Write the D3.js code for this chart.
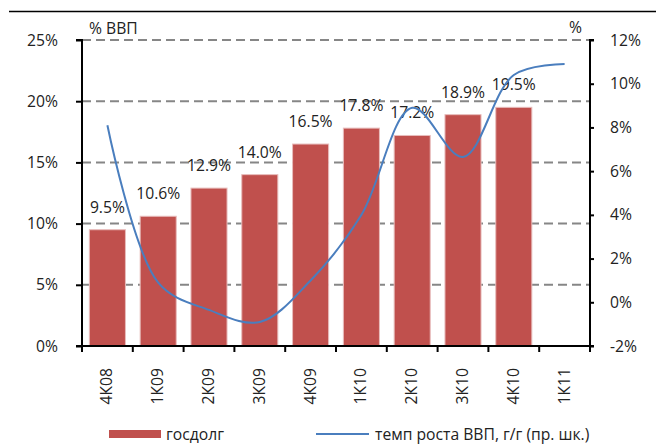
<!DOCTYPE html>
<html>
<head>
<meta charset="utf-8">
<script src="https://cdn.jsdelivr.net/npm/d3@7"></script>
<style>
  html, body { margin: 0; padding: 0; background: #fff; }
  svg { display: block; font-family: "Open Sans", "Noto Sans", sans-serif; }
</style>
</head>
<body>
<svg id="chart" width="656" height="445"></svg>
<script>
const categories = ["4К08", "1К09", "2К09", "3К09", "4К09", "1К10", "2К10", "3К10", "4К10", "1К11"];
const debtValues = [9.5, 10.6, 12.9, 14.0, 16.5, 17.8, 17.2, 18.9, 19.5, null];
const gdpGrowth = [8.1, 0.9, -0.35, -0.9, 1.0, 4.0, 8.9, 6.65, 10.4, 10.9];
const leftTicks = [0, 5, 10, 15, 20, 25];
const rightTicks = [-2, 0, 2, 4, 6, 8, 10, 12];
const leftTitle = "% ВВП";
const rightTitle = "%";
const legendBar = "госдолг";
const legendLine = "темп роста ВВП, г/г (пр. шк.)";

const svg = d3.select("#chart");
const L = 82, R = 590, T = 40, B = 346;
const barColor = "#C0504D", lineColor = "#4A7EBE", gridColor = "#868686";
const fs = 15.7;

const x = d3.scaleBand().domain(categories).range([L, R]).paddingInner(0.29).paddingOuter(0.145);
const yL = d3.scaleLinear().domain([0, 25]).range([B, T]);
const yR = d3.scaleLinear().domain([-2, 12]).range([B, T]);

// top rule
svg.append("line").attr("x1", 9).attr("x2", 656).attr("y1", 11.5).attr("y2", 11.5)
  .attr("stroke", "#000").attr("stroke-width", 1.3);

// gridlines
svg.append("g").selectAll("line").data(leftTicks.filter(d => d > 0)).join("line")
  .attr("x1", L).attr("x2", R).attr("y1", d => yL(d)).attr("y2", d => yL(d))
  .attr("stroke", gridColor).attr("stroke-width", 2).attr("stroke-dasharray", "9,5");

// bars
const bars = categories.map((c, i) => ({ c, v: debtValues[i] })).filter(d => d.v != null);
svg.append("g").selectAll("rect").data(bars).join("rect")
  .attr("x", d => x(d.c)).attr("width", x.bandwidth())
  .attr("y", d => yL(d.v)).attr("height", d => B - yL(d.v))
  .attr("fill", barColor).attr("stroke", "#E8BDBC").attr("stroke-width", 1);

// bar labels
svg.append("g").selectAll("text").data(bars).join("text")
  .attr("x", d => x(d.c) + x.bandwidth() / 2).attr("y", d => yL(d.v) - 17)
  .attr("text-anchor", "middle").attr("font-size", fs).attr("fill", "#222")
  .text(d => d.v.toFixed(1) + "%");

// line
const pts = categories.map((c, i) => ({ c, v: gdpGrowth[i] }));
svg.append("path").datum(pts)
  .attr("d", d3.line().x(d => x(d.c) + x.bandwidth() / 2).y(d => yR(d.v)).curve(d3.curveCatmullRom.alpha(0.5)))
  .attr("fill", "none").attr("stroke", lineColor).attr("stroke-width", 2);

// left axis
const axL = svg.append("g").attr("transform", `translate(${L},0)`)
  .call(d3.axisLeft(yL).tickValues(leftTicks).tickSize(6).tickPadding(18).tickFormat(d => d + "%"));
axL.select(".domain").attr("stroke", "#000").attr("stroke-width", 2).attr("d", `M-6,${T}H0V${B}H-6`);
axL.selectAll(".tick line").attr("stroke", "#000").attr("stroke-width", 2);
axL.selectAll("text").attr("font-size", fs).attr("font-family", "Open Sans").attr("fill", "#222");

// right axis
const axR = svg.append("g").attr("transform", `translate(${R},0)`)
  .call(d3.axisRight(yR).tickValues(rightTicks).tickSize(4).tickPadding(16).tickFormat(d => d + "%"));
axR.select(".domain").attr("stroke", "#000").attr("stroke-width", 2).attr("d", `M4,${T}H0V${B}H4`);
axR.selectAll(".tick line").attr("stroke", "#000").attr("stroke-width", 2);
axR.selectAll("text").attr("font-size", fs).attr("font-family", "Open Sans").attr("fill", "#222");

// bottom axis
const step = x.step();
const edges = d3.range(categories.length + 1).map(i => x(categories[0]) - step * x.paddingInner() / 2 + i * step);
svg.append("line").attr("x1", L).attr("x2", R).attr("y1", B).attr("y2", B)
  .attr("stroke", "#000").attr("stroke-width", 2);
svg.append("g").selectAll("line").data(edges).join("line")
  .attr("x1", d => d).attr("x2", d => d).attr("y1", B).attr("y2", B + 6)
  .attr("stroke", "#000").attr("stroke-width", 2);
svg.append("g").selectAll("text").data(categories).join("text")
  .attr("transform", d => `translate(${x(d) + x.bandwidth() / 2 + 5},368) rotate(-90)`)
  .attr("text-anchor", "end").attr("font-size", fs).attr("fill", "#222")
  .text(d => d);

// axis titles
svg.append("text").attr("x", 89).attr("y", 34).attr("font-size", fs).attr("fill", "#222").text(leftTitle);
svg.append("text").attr("x", 569).attr("y", 33).attr("font-size", fs).attr("fill", "#222").text(rightTitle);

// legend
svg.append("rect").attr("x", 109).attr("y", 430).attr("width", 52).attr("height", 8).attr("fill", barColor);
svg.append("text").attr("x", 166).attr("y", 440).attr("font-size", fs).attr("fill", "#222").text(legendBar);
svg.append("line").attr("x1", 316).attr("x2", 369).attr("y1", 434).attr("y2", 434)
  .attr("stroke", lineColor).attr("stroke-width", 2);
svg.append("text").attr("x", 375).attr("y", 440).attr("font-size", fs).attr("fill", "#222").text(legendLine);
</script>
</body>
</html>
